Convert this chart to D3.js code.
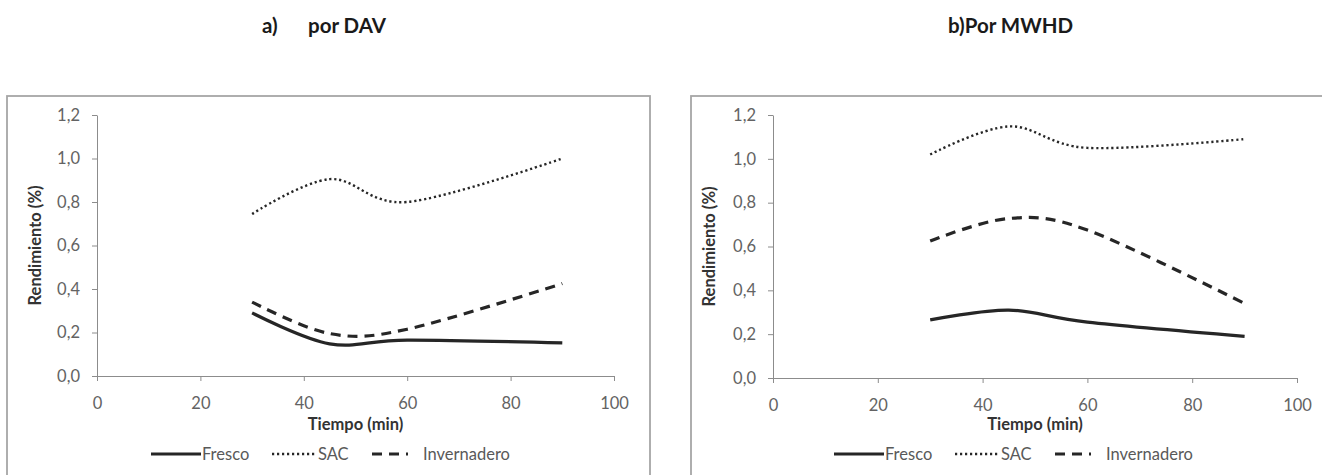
<!DOCTYPE html>
<html lang="es">
<head>
    <meta charset="UTF-8">
    <script src="https://d3js.org/d3.v7.min.js"></script>
    <title>Rendimiento</title>
    <style>
        body { margin: 0; background: #fff; }
        text { font-family: Lato, "Open Sans", sans-serif; }
    </style>
</head>
<body>
<script>
    // Data
    const times = [30, 45, 60, 90];
    const davFresco = [0.29, 0.148, 0.165, 0.152];
    const davSAC = [0.745, 0.905, 0.80, 1.0];
    const davInvernadero = [0.34, 0.195, 0.215, 0.425];
    const mwhdFresco = [0.265, 0.31, 0.255, 0.19];
    const mwhdSAC = [1.02, 1.148, 1.05, 1.09];
    const mwhdInvernadero = [0.625, 0.728, 0.675, 0.34];
    const seriesNames = ["Fresco", "SAC", "Invernadero"];
    const xTicks = [0, 20, 40, 60, 80, 100];
    const yTicks = [0, 0.2, 0.4, 0.6, 0.8, 1.0, 1.2];

    const W = 1322, H = 475;
    const ink = "#262626";
    const fs = 16.5;
    const styles = {
        Fresco: {width: 3.2, dash: null},
        SAC: {width: 2.4, dash: "2.2,2.8"},
        Invernadero: {width: 3.2, dash: "10,7"}
    };

    const svg = d3.select("body").append("svg")
        .attr("width", W)
        .attr("height", H);

    const panels = [
        {
            title: [["a)", 262], ["por DAV", 308]],
            frame: [7, 96, 650, H + 5],
            x: [97, 614], y: [376, 115],
            series: [davFresco, davSAC, davInvernadero],
            yTitleX: 36, legendX: 151
        },
        {
            title: [["b)Por MWHD", 948]],
            frame: [691, 96, W + 5, H + 5],
            x: [773, 1297], y: [378, 115],
            series: [mwhdFresco, mwhdSAC, mwhdInvernadero],
            yTitleX: 710, legendX: 834
        }
    ];

    const fmt = v => d3.format(".1f")(v).replace(".", ",");

    panels.forEach(p => {
        // Title
        p.title.forEach(t => {
            svg.append("text")
                .attr("x", t[1])
                .attr("y", 33)
                .attr("font-size", 20.5)
                .attr("font-weight", "bold")
                .attr("fill", "#1a1a1a")
                .text(t[0]);
        });

        // Frame
        svg.append("rect")
            .attr("x", p.frame[0])
            .attr("y", p.frame[1])
            .attr("width", p.frame[2] - p.frame[0])
            .attr("height", p.frame[3] - p.frame[1])
            .attr("fill", "none")
            .attr("stroke", "#a6a6a6")
            .attr("stroke-width", 1.8);

        const x = d3.scaleLinear().domain([0, 100]).range(p.x);
        const y = d3.scaleLinear().domain([0, 1.2]).range(p.y);

        // Axes
        const gx = svg.append("g")
            .attr("transform", "translate(0," + p.y[0] + ")")
            .call(d3.axisBottom(x).tickValues(xTicks).tickSize(5).tickSizeOuter(0).tickPadding(16));
        const gy = svg.append("g")
            .attr("transform", "translate(" + p.x[0] + ",0)")
            .call(d3.axisLeft(y).tickValues(yTicks).tickFormat(fmt).tickSize(5).tickSizeOuter(0).tickPadding(12));
        [gx, gy].forEach(g => {
            g.select(".domain").attr("stroke", "#8c8c8c");
            g.selectAll(".tick line").attr("stroke", "#8c8c8c");
            g.selectAll(".tick text")
                .attr("fill", "#636363")
                .attr("font-size", fs)
                .style("font-family", "Lato, 'Open Sans', sans-serif");
        });

        // Axis titles
        svg.append("text")
            .attr("x", (p.x[0] + p.x[1]) / 2)
            .attr("y", 430)
            .attr("text-anchor", "middle")
            .attr("font-size", fs)
            .attr("font-weight", "bold")
            .attr("fill", "#333")
            .text("Tiempo (min)");
        svg.append("text")
            .attr("transform", "translate(" + (p.yTitleX + 5) + "," + ((p.y[0] + p.y[1]) / 2) + ") rotate(-90)")
            .attr("text-anchor", "middle")
            .attr("font-size", fs)
            .attr("font-weight", "bold")
            .attr("fill", "#333")
            .text("Rendimiento (%)");

        // Lines
        const line = d3.line()
            .x((d, i) => x(times[i]))
            .y(d => y(d))
            .curve(d3.curveCardinal.tension(0));
        p.series.forEach((values, k) => {
            const st = styles[seriesNames[k]];
            svg.append("path")
                .datum(values)
                .attr("fill", "none")
                .attr("stroke", ink)
                .attr("stroke-width", st.width)
                .attr("stroke-dasharray", st.dash)
                .attr("d", line);
        });

        // Legend
        const legendY = 454;
        const items = [
            {name: "Fresco", x0: 0, x1: 50, tx: 51},
            {name: "SAC", x0: 121, x1: 165, tx: 167},
            {name: "Invernadero", x0: 221, x1: 257, tx: 272}
        ];
        items.forEach(it => {
            const st = styles[it.name];
            svg.append("line")
                .attr("x1", p.legendX + it.x0)
                .attr("x2", p.legendX + it.x1)
                .attr("y1", legendY)
                .attr("y2", legendY)
                .attr("stroke", ink)
                .attr("stroke-width", st.width)
                .attr("stroke-dasharray", st.dash);
            svg.append("text")
                .attr("x", p.legendX + it.tx)
                .attr("y", legendY + 6)
                .attr("font-size", fs)
                .attr("fill", "#595959")
                .text(it.name);
        });
    });
</script>
</body>
</html>
